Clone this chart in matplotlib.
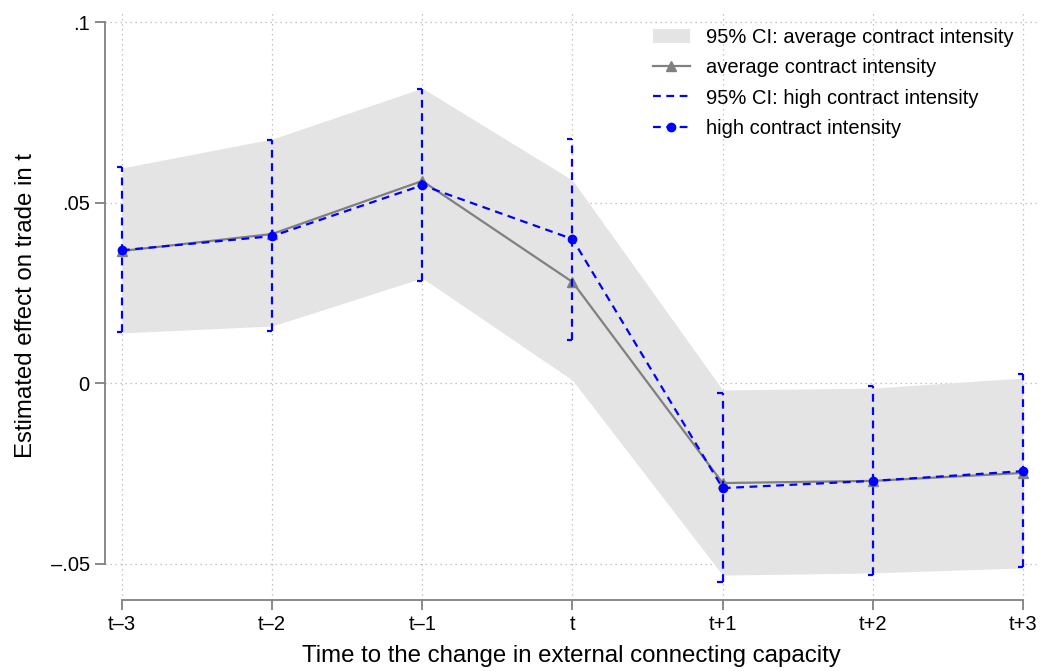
import matplotlib
matplotlib.use("Agg")
import matplotlib.pyplot as plt
from matplotlib.lines import Line2D
from matplotlib.patches import Patch
import numpy as np

plt.rcParams['font.family'] = ['Liberation Sans', 'DejaVu Sans']

periods = ["t\u20133", "t\u20132", "t\u20131", "t", "t+1", "t+2", "t+3"]
avg_est = [0.0366, 0.0413, 0.0560, 0.0280, -0.0277, -0.0271, -0.0249]
avg_lo = [0.0139, 0.0158, 0.0291, 0.0008, -0.0532, -0.0526, -0.0512]
avg_hi = [0.0596, 0.0676, 0.0817, 0.0562, -0.0019, -0.0014, 0.0014]
high_est = [0.0368, 0.0407, 0.0548, 0.0399, -0.0291, -0.0271, -0.0244]
high_lo = [0.0141, 0.0144, 0.0282, 0.0119, -0.0551, -0.0532, -0.0510]
high_hi = [0.0598, 0.0673, 0.0814, 0.0676, -0.0028, -0.0008, 0.0025]
yticks = [-0.05, 0, 0.05, 0.1]
ytick_labels = ["\u2013.05", "0", ".05", ".1"]

x = np.arange(len(periods)) - 3

fig = plt.figure(figsize=(10.43, 6.71), dpi=100)
ax = fig.add_axes([105/1043, 71/671, 933/1043, 588/671])

grey = "#808080"
blue = "#0000ff"
fill_c = "#e4e4e4"
dash = (0, (3.5, 2.5))

ax.fill_between(x, avg_lo, avg_hi, color=fill_c, lw=0, zorder=1)
ax.plot(x, avg_est, color=grey, lw=1.6, marker="^", ms=7, zorder=3)

ax.vlines(x, high_lo, high_hi, colors=blue, linestyles=dash, lw=1.6, zorder=4)
cap = 0.035
for xi, lo, hi in zip(x, high_lo, high_hi):
    ax.plot([xi - cap, xi], [lo, lo], color=blue, lw=1.6, zorder=4, solid_capstyle="butt")
    ax.plot([xi - cap, xi], [hi, hi], color=blue, lw=1.6, zorder=4, solid_capstyle="butt")
ax.plot(x, high_est, color=blue, lw=1.6, ls=dash, marker="o", ms=6, zorder=5)

ax.set_xlim(-3.113, 3.10)
ax.set_ylim(-0.0601, 0.1028)

for s in ["top", "right"]:
    ax.spines[s].set_visible(False)
for s in ["left", "bottom"]:
    ax.spines[s].set_color(grey)
    ax.spines[s].set_linewidth(1.3)
ax.spines["left"].set_bounds(-0.05, 0.1)
ax.spines["bottom"].set_bounds(-3, 3)

ax.set_xticks(x)
ax.set_xticklabels(periods)
ax.set_yticks(yticks)
ax.set_yticklabels(ytick_labels)
ax.tick_params(axis="both", colors=grey, labelcolor="black", length=7, width=1.3, labelsize=14.5, pad=4)

ax.grid(True, ls=(0, (1, 3)), color="#b4b4b4", lw=0.9)
ax.set_axisbelow(True)

ax.set_xlabel("Time to the change in external connecting capacity", fontsize=17.3, labelpad=8)
ax.set_ylabel("Estimated effect on trade in t", fontsize=17.3, labelpad=10)

handles = [
    Patch(facecolor=fill_c, edgecolor="none"),
    Line2D([], [], color=grey, lw=1.6, marker="^", ms=7),
    Line2D([], [], color=blue, lw=1.6, ls=dash),
    Line2D([], [], color=blue, lw=1.6, ls=dash, marker="o", ms=6),
]
labels = ["95% CI: average contract intensity", "average contract intensity",
          "95% CI: high contract intensity", "high contract intensity"]
ax.legend(handles, labels, loc="upper right", bbox_to_anchor=(0.993, 1.003), frameon=False,
          fontsize=14.5, handlelength=1.8, labelspacing=0.55, handletextpad=0.8)

fig.savefig("out.png", dpi=100)
